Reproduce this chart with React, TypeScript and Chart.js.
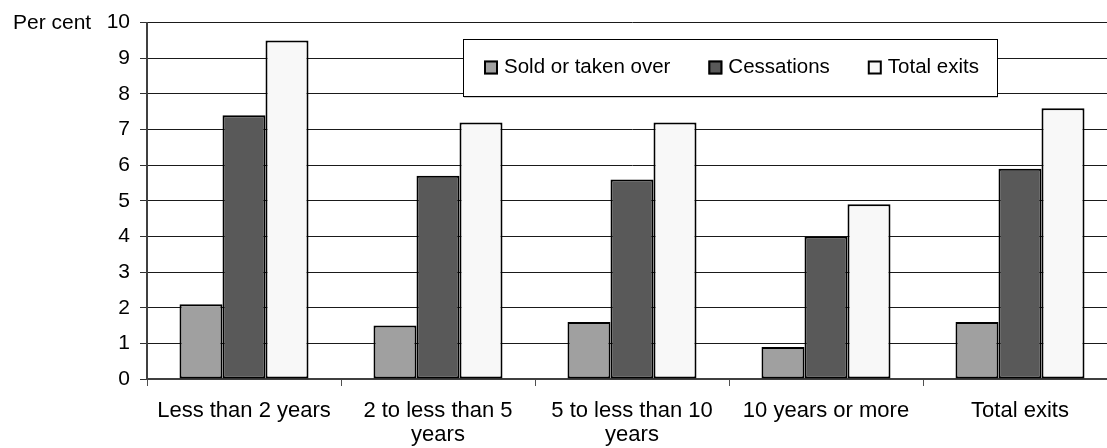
import { useEffect, useRef } from "react";
import { Chart, registerables } from "chart.js";

Chart.register(...registerables);

const categories: (string | string[])[] = [
  "Less than 2 years",
  ["2 to less than 5", "years"],
  ["5 to less than 10", "years"],
  "10 years or more",
  "Total exits",
];
const seriesNames = ["Sold or taken over", "Cessations", "Total exits"];
const soldValues = [2.1, 1.5, 1.6, 0.9, 1.6];
const cessationValues = [7.4, 5.7, 5.6, 4.0, 5.9];
const totalValues = [9.5, 7.2, 7.2, 4.9, 7.6];
const yMin = 0;
const yMax = 10;
const yStep = 1;
const yUnitLabel = "Per cent";

const seriesColors = ["#a0a0a0", "#595959", "#f8f8f8"];
const FONT = "'Liberation Sans', Arial, Helvetica, sans-serif";

const perCentPlugin = {
  id: "perCent",
  afterDraw(chart: any) {
    const ctx = chart.ctx;
    const y = chart.scales.y.getPixelForValue(yMax);
    ctx.save();
    ctx.font = `21px ${FONT}`;
    ctx.fillStyle = "#000";
    ctx.textAlign = "left";
    ctx.textBaseline = "middle";
    ctx.fillText(yUnitLabel, 13, y + 1);
    ctx.restore();
  },
};

const boxLegendPlugin = {
  id: "boxLegend",
  afterDraw(chart: any) {
    const ctx = chart.ctx;
    const left = 463;
    const top = 39;
    const height = 57;
    const padL = 21;
    const padR = 18;
    const sq = 14;
    const gapText = 6;
    const gapItem = 38;
    ctx.save();
    ctx.font = `20.5px ${FONT}`;
    const items = chart.data.datasets.map((ds: any) => ({
      text: ds.label as string,
      color: ds.backgroundColor as string,
      w: ctx.measureText(ds.label).width,
    }));
    const width = Math.round(
      padL +
        padR +
        items.reduce((s: number, it: any) => s + sq + gapText + it.w, 0) +
        gapItem * (items.length - 1)
    );
    // subtle shadow
    ctx.fillStyle = "#9a9a9a";
    ctx.fillRect(left + 1, top + height, width, 1.5);
    ctx.fillStyle = "#fff";
    ctx.fillRect(left, top, width, height);
    ctx.strokeStyle = "#000";
    ctx.lineWidth = 1;
    ctx.strokeRect(left + 0.5, top + 0.5, width, height);
    const cy = top + height / 2;
    let x = left + padL;
    items.forEach((it: any) => {
      ctx.fillStyle = it.color;
      ctx.fillRect(x, cy - sq / 2, sq, sq);
      ctx.lineWidth = 2;
      ctx.strokeStyle = "#000";
      ctx.strokeRect(x + 1, cy - sq / 2 + 1, sq - 2, sq - 2);
      x += sq + gapText;
      ctx.fillStyle = "#000";
      ctx.textAlign = "left";
      ctx.textBaseline = "middle";
      ctx.fillText(it.text, x, cy);
      x += it.w + gapItem;
    });
    ctx.restore();
  },
};

export default function App() {
  const canvasRef = useRef<HTMLCanvasElement | null>(null);

  useEffect(() => {
    if (!canvasRef.current) return;
    Chart.defaults.font.family = FONT;
    Chart.defaults.color = "#000";
    const valueSets = [soldValues, cessationValues, totalValues];
    const chart = new Chart(canvasRef.current, {
      type: "bar",
      data: {
        labels: categories,
        datasets: seriesNames.map((name, i) => ({
          label: name,
          data: valueSets[i],
          backgroundColor: seriesColors[i],
          borderColor: "#000",
          borderWidth: 2,
          borderSkipped: false,
          categoryPercentage: 0.665,
          barPercentage: 1.0,
        })),
      },
      options: {
        responsive: false,
        animation: false,
        events: [],
        devicePixelRatio: 1,
        layout: { padding: { top: 22, left: 0, right: 0, bottom: 0 } },
        plugins: {
          legend: { display: false },
          tooltip: { enabled: false },
          title: { display: false },
        },
        scales: {
          x: {
            offset: true,
            grid: {
              offset: true,
              drawOnChartArea: false,
              drawTicks: true,
              tickLength: 7,
              color: "#505050",
              lineWidth: 1,
            },
            border: { display: true, color: "#404040", width: 2 },
            ticks: {
              font: { size: 22, lineHeight: 1.1 },
              color: "#000",
              padding: 13,
              maxRotation: 0,
              minRotation: 0,
              autoSkip: false,
            },
            afterFit(scale: any) {
              scale.height = 69;
            },
          },
          y: {
            min: yMin,
            max: yMax,
            ticks: {
              stepSize: yStep,
              font: { size: 21 },
              color: "#000",
              padding: 10,
            },
            grid: {
              color: "#1a1a1a",
              lineWidth: 1,
              tickLength: 7,
              tickColor: "#303030",
            },
            border: { display: true, color: "#404040", width: 2 },
            afterFit(scale: any) {
              scale.width = 147;
            },
          },
        },
      },
      plugins: [perCentPlugin, boxLegendPlugin],
    });
    return () => chart.destroy();
  }, []);

  return (
    <div
      style={{
        position: "fixed",
        left: 0,
        top: 0,
        width: 1107,
        height: 448,
        overflow: "hidden",
        background: "#fff",
      }}
    >
      <canvas
        ref={canvasRef}
        width={1117}
        height={448}
        style={{ display: "block", width: 1117, height: 448 }}
      />
    </div>
  );
}
